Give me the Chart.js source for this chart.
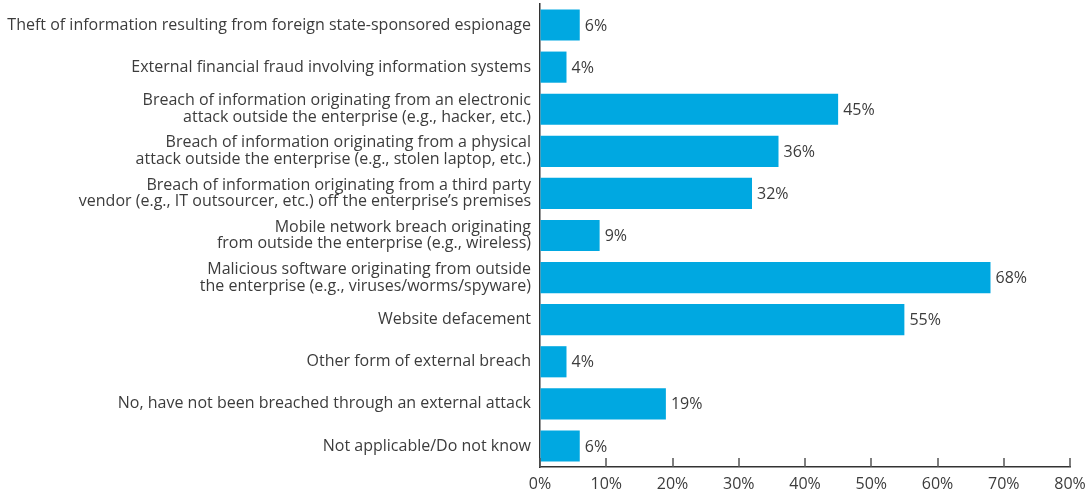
<!DOCTYPE html>
<html>
<head>
<meta charset="utf-8">
<script src="https://cdn.jsdelivr.net/npm/chart.js@4"></script>
<style>
  html, body { margin: 0; padding: 0; background: #fff; }
  #wrap { width: 1088px; height: 498px; position: relative; }
</style>
</head>
<body>
<div id="wrap"><canvas id="breachChart"></canvas></div>
<script>
const categories = [
    'Theft of information resulting from foreign state-sponsored espionage',
    'External financial fraud involving information systems',
    ['Breach of information originating from an electronic', 'attack outside the enterprise (e.g., hacker, etc.)'],
    ['Breach of information originating from a physical', 'attack outside the enterprise (e.g., stolen laptop, etc.)'],
    ['Breach of information originating from a third party', 'vendor (e.g., IT outsourcer, etc.) off the enterprise\u2019s premises'],
    ['Mobile network breach originating', 'from outside the enterprise (e.g., wireless)'],
    ['Malicious software originating from outside', 'the enterprise (e.g., viruses/worms/spyware)'],
    'Website defacement',
    'Other form of external breach',
    'No, have not been breached through an external attack',
    'Not applicable/Do not know'
];
const values = [6, 4, 45, 36, 32, 9, 68, 55, 4, 19, 6];
const axisMax = 80;
const axisStep = 10;

const textColor = '#3c3c3c';
const barColor = '#00a8e1';
const fontFamily = '"Open Sans", "Noto Sans", sans-serif';
const fontSize = 16;

// draws the "45%" labels at the end of each bar
const valueLabels = {
    id: 'valueLabels',
    afterDatasetsDraw(chart) {
        const ctx = chart.ctx;
        const meta = chart.getDatasetMeta(0);
        ctx.save();
        ctx.font = fontSize + 'px ' + fontFamily;
        ctx.fillStyle = textColor;
        ctx.textAlign = 'left';
        ctx.textBaseline = 'middle';
        meta.data.forEach((bar, i) => {
            ctx.fillText(values[i] + '%', bar.x + 5, bar.y + 1);
        });
        ctx.restore();
    }
};

// x tick marks point up into the plot, like the original
const innerTicks = {
    id: 'innerTicks',
    afterDraw(chart) {
        const ctx = chart.ctx;
        const xs = chart.scales.x;
        const bottom = chart.chartArea.bottom;
        ctx.save();
        ctx.strokeStyle = '#555555';
        ctx.lineWidth = 1.5;
        xs.ticks.forEach((t) => {
            const px = Math.round(xs.getPixelForValue(t.value));
            ctx.beginPath();
            ctx.moveTo(px, bottom);
            ctx.lineTo(px, bottom - 9);
            ctx.stroke();
        });
        ctx.restore();
    }
};

function initChart() {
    const ctx = document.getElementById('breachChart').getContext('2d');
    new Chart(ctx, {
        type: 'bar',
        data: {
            labels: categories,
            datasets: [{
                data: values,
                backgroundColor: barColor,
                borderWidth: 0,
                categoryPercentage: 1,
                barPercentage: 0.74
            }]
        },
        plugins: [valueLabels, innerTicks],
        options: {
            indexAxis: 'y',
            responsive: true,
            maintainAspectRatio: false,
            animation: false,
            layout: {
                padding: { top: 4, right: 18, bottom: 0, left: 0 }
            },
            scales: {
                x: {
                    min: 0,
                    max: axisMax,
                    ticks: {
                        stepSize: axisStep,
                        color: textColor,
                        font: { family: fontFamily, size: fontSize },
                        padding: 8,
                        callback: (v) => v + '%'
                    },
                    grid: {
                        drawOnChartArea: false,
                        drawTicks: false
                    },
                    border: { color: '#333333', width: 1.5 },
                    afterFit: (scale) => {
                        scale.height = 31;
                        scale.paddingLeft = 0;
                        scale.paddingRight = 0;
                    }
                },
                y: {
                    ticks: {
                        color: textColor,
                        font: { family: fontFamily, size: fontSize, lineHeight: 1.05 },
                        padding: 9,
                        autoSkip: false
                    },
                    grid: { display: false, drawTicks: false },
                    border: { color: '#333333', width: 1.5 },
                    afterFit: (scale) => {
                        scale.width = 540;
                        scale.paddingTop = 0;
                        scale.paddingBottom = 0;
                    }
                }
            },
            plugins: {
                legend: { display: false },
                tooltip: { enabled: false }
            }
        }
    });
}

initChart();
</script>
</body>
</html>
